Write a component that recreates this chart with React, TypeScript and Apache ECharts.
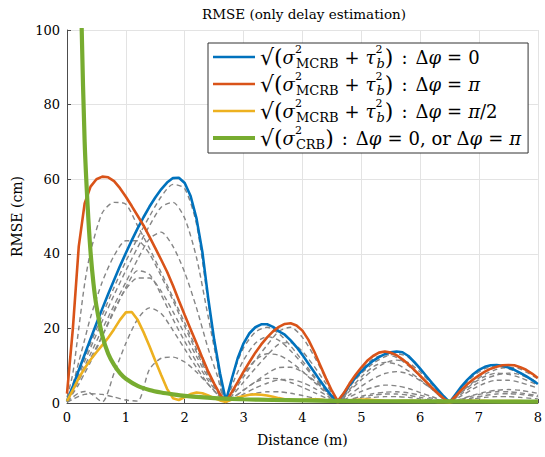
import React, { useEffect, useRef } from "react";
import * as echarts from "echarts";

// ---------- data ----------
const X_MIN = 0;
const X_MAX = 8;
const Y_MIN = 0;
const Y_MAX = 100;

// main curves sampled at x = 0, 0.1, ..., 8.0
const X_MAIN: number[] = Array.from({ length: 81 }, (_, i) => i / 10);

const BLUE = [
  0.5, 4.5, 8.8, 13, 17.2, 21.3, 25.3, 29.2, 33, 36.7, 40.2, 43.6, 46.8, 49.8, 52.6, 55.1, 57.3, 59.1, 60.3, 60.4, 59, 55.5, 49.5, 40.5, 28, 17, 8, 0.5,
  6.5, 12, 16, 18.7, 20.3, 21.1, 21.1, 20.4, 19.2, 18.3, 16.8, 15, 12.9, 10.6, 8.3, 6, 3.8, 1.8, 0.3,
  2.5, 4.8, 6.8, 8.5, 10, 11.3, 12.3, 13.1, 13.6, 13.8, 13.6, 12.6, 11, 9.2, 7.3, 5.4, 3.6, 1.8, 0.2,
  2.3, 4.4, 6.2, 7.7, 8.9, 9.7, 10.1, 10.2, 10, 9.5, 8.9, 8.1, 7.2, 6.2, 5.1,
];
const RED = [
  2.5, 20, 42, 53.5, 58, 60, 60.7, 60.5, 59.5, 57.6, 55.3, 52.8, 50.2, 47.6, 44.6, 41.5, 38.4, 35.2, 31.5, 27.5, 23.6, 19.8, 16, 12.1, 8.4, 5.2, 2.3, 0.3,
  2.9, 5.6, 8.4, 11, 13.5, 15.7, 17.6, 19.2, 20.4, 21.2, 21.4, 20.8, 19.4, 17, 13.8, 10.2, 6.6, 3.3, 0.5,
  2.6, 5.2, 7.5, 9.5, 11.3, 12.6, 13.5, 13.8, 13.5, 12.8, 11.7, 10.4, 8.9, 7.3, 5.7, 4.1, 2.6, 1.2, 0.2,
  1.8, 3.5, 5, 6.3, 7.4, 8.4, 9.2, 9.7, 10.1, 10.2, 10.1, 9.6, 8.9, 7.9, 6.7,
];
const YELLOW = [
  0.5, 3.5, 6.7, 9.3, 11.6, 13.6, 15.5, 17.5, 19.8, 22.3, 24.3, 24.4, 22.3, 19, 15.3, 11.3, 7.5, 3.8, 1.3, 0.8, 1.6, 2.4, 2.8, 2.6, 2, 1.3, 0.7, 0.3,
  0.9, 1.5, 1.9, 2.2, 2.3, 2.2, 2, 1.7, 1.3, 1, 0.8, 0.7, 0.8, 0.9, 1, 0.9, 0.7, 0.5, 0.3,
  0.5, 0.7, 0.8, 0.9, 0.9, 0.8, 0.7, 0.6, 0.5, 0.5, 0.6, 0.6, 0.6, 0.5, 0.5, 0.4, 0.3, 0.3, 0.2,
  0.4, 0.5, 0.6, 0.6, 0.6, 0.6, 0.5, 0.5, 0.5, 0.5, 0.5, 0.5, 0.4, 0.4, 0.4,
];

const X_GREEN = [0.2, 0.22, 0.25, 0.3, 0.35, 0.4, 0.45, 0.5, 0.6, 0.7, 0.8, 0.9, 1.0, 1.2, 1.4, 1.6, 1.8, 2.0, 2.5, 3.0, 3.5, 4, 5, 6, 7, 8];
const GREEN = [155, 128, 100, 70, 53, 40.5, 32, 26, 18, 13.2, 10.2, 8, 6.5, 4.6, 3.5, 2.8, 2.3, 1.9, 1.3, 1.0, 0.8, 0.7, 0.5, 0.45, 0.4, 0.35];

// dashed gray curves (other phase differences)
const X_DASH = [0, 0.1, 0.2, 0.3, 0.4, 0.6, 0.8, 1.0, 1.2, 1.4, 1.6, 1.8, 2.0, 2.2, 2.4, 2.55, 2.69, 2.85, 3.0, 3.2, 3.4, 3.6, 3.8, 4.0, 4.2, 4.4, 4.62, 4.8, 5.0, 5.2, 5.4, 5.6, 5.8, 6.0, 6.2, 6.49, 6.7, 6.9, 7.1, 7.3, 7.5, 7.7, 8.0];
const DASH_1 = [0.5, 4.2, 8.2, 12.2, 16, 23.6, 31, 38, 44.2, 50, 55.3, 58.6, 57.5, 48, 27, 12, 0.3, 9, 14.8, 19, 20.3, 18.6, 15.3, 11.3, 7.2, 3.4, 0.3, 4.3, 7.9, 10.6, 12.4, 13.2, 12.3, 9, 5.4, 0.3, 4, 7.2, 9.2, 9.8, 9.2, 7.9, 5.4];
const DASH_2 = [0.4, 3.8, 7.5, 11.2, 14.8, 22, 29, 35.5, 41.7, 47.5, 52.5, 53.8, 49.5, 39, 23, 11, 0.3, 6.5, 11.5, 16, 17.8, 16.8, 14, 10.5, 6.8, 3.2, 0.3, 3.2, 6.2, 8.8, 10.7, 11.5, 10.8, 8.3, 5, 0.3, 2.8, 5.3, 7.1, 8, 7.7, 6.8, 4.8];
const DASH_3 = [0.3, 3.3, 6.6, 9.9, 13.2, 19.8, 26.2, 32.4, 38.5, 44, 45.8, 42, 35, 25.5, 14.5, 7.5, 0.3, 4.2, 7.8, 11.5, 13.2, 12.8, 11, 8.5, 5.6, 2.8, 0.3, 2.2, 4.5, 6.5, 7.9, 8.4, 7.8, 6, 3.7, 0.3, 1.9, 3.8, 5.3, 6.1, 6.1, 5.5, 4];
const DASH_4 = [0.3, 3, 6, 9, 12, 18, 24.5, 31, 35.5, 34.5, 29, 22.5, 16.5, 11, 6, 3, 0.3, 1.8, 3.5, 5.6, 6.6, 6.5, 5.5, 4.2, 2.8, 1.4, 0.3, 0.9, 1.8, 2.5, 2.9, 3, 2.7, 2.1, 1.3, 0.3, 1, 1.9, 2.6, 3, 3, 2.7, 2];
const DASH_5 = [0.2, 1, 1.8, 2.3, 2.5, 2.3, 1.6, 0.8, 0.5, 9, 12, 12.3, 11, 8.3, 5, 2.5, 0.3, 1, 1.8, 2.6, 3, 3, 2.6, 2, 1.3, 0.7, 0.2, 0.6, 1.1, 1.5, 1.7, 1.7, 1.5, 1.1, 0.7, 0.2, 0.6, 1.1, 1.5, 1.7, 1.7, 1.5, 1.1];
const DASH_6 = [1.5, 8, 20, 32, 40.5, 51, 53.8, 53.3, 47.5, 41.5, 35, 28.3, 21.5, 14.5, 8, 3.8, 0.3, 3.5, 7, 11.5, 15.5, 19.2, 20.3, 17.6, 12.5, 6.5, 0.3, 4.5, 8.7, 11.8, 13, 12.2, 10, 7.2, 4.3, 0.3, 3, 5.6, 7.7, 9, 9.6, 9.1, 6.5];
const DASH_7 = [0.8, 5, 11, 17, 23, 32.5, 39.5, 43.5, 43.5, 40, 34, 27.5, 20.5, 13.7, 7.5, 3.6, 0.3, 2.8, 5.6, 9.3, 12.8, 15.8, 16.2, 13.8, 9.8, 5.2, 0.3, 3.6, 7, 9.7, 10.9, 10.4, 8.6, 6.2, 3.7, 0.3, 2.4, 4.6, 6.4, 7.5, 8, 7.6, 5.5];
const DASH_8 = [0.5, 2.5, 5, 8, 11, 18, 25, 30.5, 33.5, 33.5, 30, 24.5, 18.5, 12.5, 6.8, 3.3, 0.3, 1.7, 3.4, 5.7, 7.9, 9.5, 9.6, 8.3, 6, 3.2, 0.3, 1.6, 3.1, 4.2, 4.8, 4.6, 3.9, 2.8, 1.7, 0.3, 1.1, 2.1, 2.9, 3.4, 3.6, 3.4, 2.6];
const DASH_9 = [0.3, 1.6, 2.7, 3.1, 2.6, 0.3, 8, 16, 22.5, 25.5, 24, 19.5, 14.5, 9.5, 5, 2.4, 0.3, 1.2, 2.4, 4, 5.3, 6.2, 6.3, 5.5, 4, 2.1, 0.3, 0.8, 1.5, 2.1, 2.4, 2.4, 2.1, 1.5, 0.9, 0.2, 0.7, 1.4, 2, 2.4, 2.5, 2.3, 1.7];
const DASHED = [DASH_1, DASH_2, DASH_3, DASH_4, DASH_5, DASH_6, DASH_7, DASH_8, DASH_9];

const SERIES_NAMES = ["MCRB dphi=0", "MCRB dphi=pi", "MCRB dphi=pi/2", "CRB"];
const LEGEND_TEXT = [
  "{big|√(}{i|σ}{sup|2}{sub|MCRB}{op|+}{i|τ}{sup|2}{subi|b}{big|)}{col|:}{r|Δ}{i|φ}{op|=}{r|0}",
  "{big|√(}{i|σ}{sup|2}{sub|MCRB}{op|+}{i|τ}{sup|2}{subi|b}{big|)}{col|:}{r|Δ}{i|φ}{op|=}{i|π}",
  "{big|√(}{i|σ}{sup|2}{sub|MCRB}{op|+}{i|τ}{sup|2}{subi|b}{big|)}{col|:}{r|Δ}{i|φ}{op|=}{i|π}{r|/2}",
  "{big|√(}{i|σ}{sup|2}{sub|CRB}{big|)}{col|:}{r|Δ}{i|φ}{op|=}{r|0, or Δ}{i|φ}{op|=}{i|π}",
];
const TITLE = "RMSE (only delay estimation)";
const X_NAME = "Distance (m)";
const Y_NAME = "RMSE (cm)";

const COLORS = ["#0072BD", "#D95319", "#EDB120", "#77AC30"];
const LINE_W = [2.6, 2.6, 2.6, 4.2];
const FONT = "DejaVu Serif";

const pairs = (xs: number[], ys: number[]) => ys.map((y, i) => [xs[i], y]);

export default function App() {
  const ref = useRef<HTMLDivElement>(null);
  useEffect(() => {
    if (!ref.current) return;
    const chart = echarts.init(ref.current, null, { renderer: "svg" });
    const dashedSeries = DASHED.map((d, k) => ({
      type: "line",
      name: "dashed" + k,
      data: pairs(X_DASH, d),
      showSymbol: false,
      symbol: "none",
      smooth: 0.25,
      silent: true,
      z: 1,
      lineStyle: { color: "#858585", width: 1.4, type: [5, 3.5] },
    }));
    const mainData = [pairs(X_MAIN, BLUE), pairs(X_MAIN, RED), pairs(X_MAIN, YELLOW), pairs(X_GREEN, GREEN)];
    const mainSeries = mainData.map((d, k) => ({
      type: "line",
      name: SERIES_NAMES[k],
      data: d,
      showSymbol: false,
      symbol: "none",
      smooth: k === 3 ? 0.3 : false,
      z: 2 + k,
      itemStyle: { color: COLORS[k] },
      lineStyle: { color: COLORS[k], width: LINE_W[k] },
    }));
    const base = { fontFamily: FONT, color: "#000" };
    chart.setOption({
      animation: false,
      backgroundColor: "#ffffff",
      textStyle: { fontFamily: FONT },
      grid: { left: 67, right: 4, top: 30, bottom: 54, containLabel: false },
      graphic: [
        {
          type: "text",
          x: 304,
          y: 14,
          style: {
            text: TITLE,
            textAlign: "center",
            textVerticalAlign: "middle",
            fontFamily: FONT,
            fontSize: 13.5,
            fill: "#000",
          },
        },
      ],
      xAxis: {
        type: "value",
        min: X_MIN,
        max: X_MAX,
        interval: 1,
        name: X_NAME,
        nameLocation: "middle",
        nameGap: 30,
        nameTextStyle: { ...base, fontSize: 14 },
        axisLine: { show: true, lineStyle: { color: "#4d4d4d", width: 1 } },
        axisTick: { show: true, inside: true, length: 4, lineStyle: { color: "#4d4d4d" } },
        axisLabel: { ...base, fontSize: 13, margin: 8 },
        splitLine: { show: true, lineStyle: { color: "#e3e3e3", width: 1 } },
      },
      yAxis: {
        type: "value",
        min: Y_MIN,
        max: Y_MAX,
        interval: 20,
        name: Y_NAME,
        nameLocation: "middle",
        nameGap: 36,
        nameTextStyle: { ...base, fontSize: 14 },
        axisLine: { show: true, lineStyle: { color: "#4d4d4d", width: 1 } },
        axisTick: { show: true, inside: true, length: 4, lineStyle: { color: "#4d4d4d" } },
        axisLabel: { ...base, fontSize: 13, margin: 7 },
        splitLine: { show: true, lineStyle: { color: "#e3e3e3", width: 1 } },
      },
      legend: {
        data: SERIES_NAMES.map((n, k) => ({
          name: n,
          icon: k === 3 ? "path://M0 0H42V4.2H0Z" : "path://M0 0H42V2.6H0Z",
          itemStyle: { color: COLORS[k], borderWidth: 0 },
        })),
        orient: "vertical",
        left: 208,
        top: 43,
        itemWidth: 42,
        itemHeight: 14,
        itemGap: 1,
        itemTextGap: 7,
        padding: [1, 7, 2, 5],
        backgroundColor: "#ffffff",
        borderColor: "#333333",
        borderWidth: 1,
        borderRadius: 0,
        selectedMode: false,
        formatter: (name: string) => LEGEND_TEXT[SERIES_NAMES.indexOf(name)],
        textStyle: {
          ...base,
          fontSize: 18,
          rich: {
            r: { ...base, fontSize: 18, lineHeight: 26 },
            big: { ...base, fontSize: 22, lineHeight: 26 },
            i: { ...base, fontSize: 18, fontStyle: "italic", lineHeight: 26 },
            op: { ...base, fontSize: 18, lineHeight: 26, padding: [0, 6, 0, 6] },
            col: { ...base, fontSize: 18, lineHeight: 26, padding: [0, 8, 0, 8] },
            sup: { ...base, fontSize: 11, lineHeight: 11, verticalAlign: "top", width: 1 },
            sub: { ...base, fontSize: 13, lineHeight: 13, verticalAlign: "bottom" },
            subi: { ...base, fontSize: 13, fontStyle: "italic", lineHeight: 13, verticalAlign: "bottom" },
          },
        },
      },
      series: [...dashedSeries, ...mainSeries],
    });
    return () => chart.dispose();
  }, []);
  return (
    <div
      ref={ref}
      style={{ position: "absolute", left: 0, top: 0, width: 545, height: 457 }}
    />
  );
}
